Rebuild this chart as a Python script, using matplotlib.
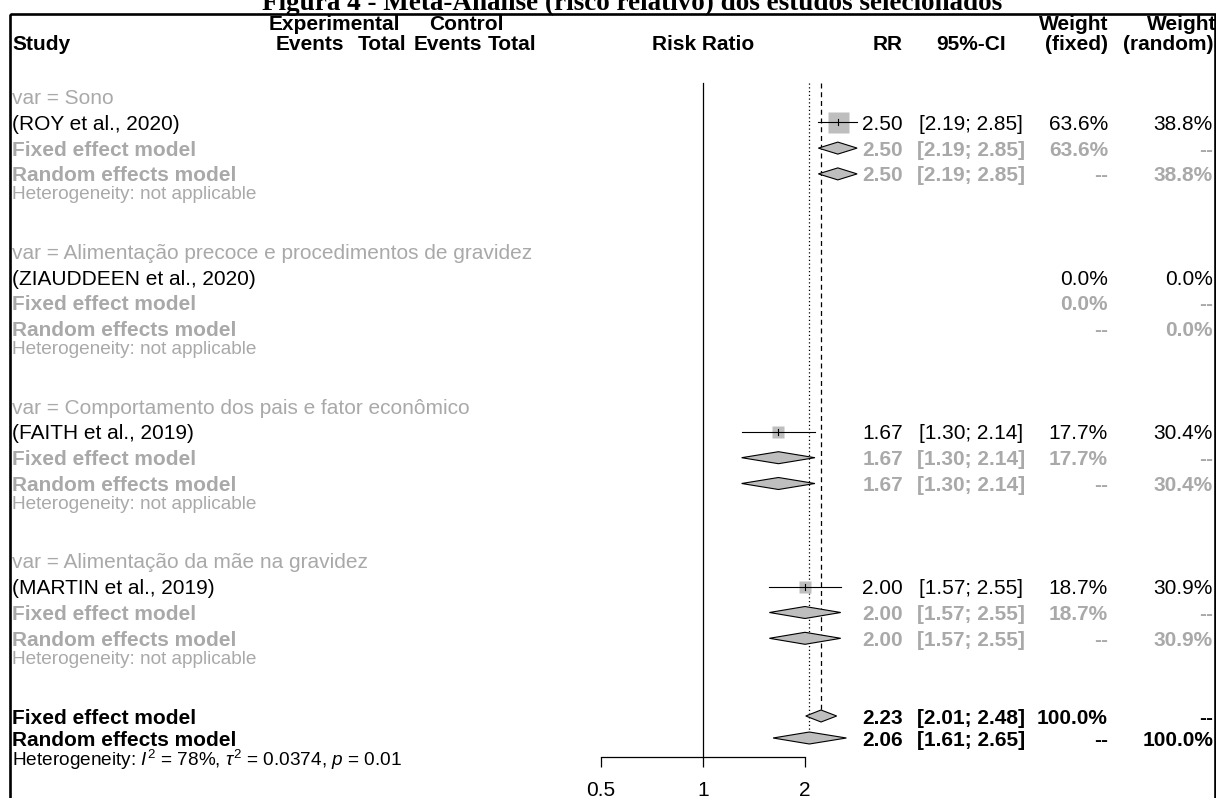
"""
Forest plot (risk ratio) of the selected studies, meta-analysis by subgroup.
Layout follows the R meta::forest output pasted in the document.
"""

import numpy as np
import matplotlib.pyplot as plt
from matplotlib.patches import Polygon, Rectangle
from matplotlib.ticker import NullLocator

plt.rcParams["font.family"] = ["Liberation Sans", "DejaVu Sans"]
plt.rcParams["mathtext.fontset"] = "custom"
plt.rcParams["mathtext.rm"] = "Liberation Sans"
plt.rcParams["mathtext.it"] = "Liberation Sans:italic"

TITLE = "Figura 4 - Meta-Análise (risco relativo) dos estudos selecionados"

GROUPS = [
    "Sono",
    "Alimentação precoce e procedimentos de gravidez",
    "Comportamento dos pais e fator econômico",
    "Alimentação da mãe na gravidez",
]
STUDIES = [
    "(ROY et al., 2020)",
    "(ZIAUDDEEN et al., 2020)",
    "(FAITH et al., 2019)",
    "(MARTIN et al., 2019)",
]
RR = [2.50, np.nan, 1.67, 2.00]
CI_LOW = [2.19, np.nan, 1.30, 1.57]
CI_HIGH = [2.85, np.nan, 2.14, 2.55]
W_FIXED = [63.6, 0.0, 17.7, 18.7]
W_RANDOM = [38.8, 0.0, 30.4, 30.9]

# pooled: fixed, random
POOLED_LABELS = ["Fixed effect model", "Random effects model"]
POOLED_RR = [2.23, 2.06]
POOLED_LOW = [2.01, 1.61]
POOLED_HIGH = [2.48, 2.65]
TOTAL_WEIGHT = 100.0
HET_I2 = 78
HET_TAU2 = 0.0374
HET_P = 0.01

AXIS_TICKS = [0.5, 1, 2]
AXIS_LABELS = ["0.5", "1", "2"]

# layout (pixels)
W, H, DPI = 1216, 798, 100
X_ONE = 703
PX_PER_DOUBLING = 102
ROW0, PITCH = 96.5, 25.8
HET_SHIFT = -7
POOLED_Y = [716, 738]
HET_ALL_Y = 757
AXIS_Y = 757
LINE_TOP = 83
DIAMOND_H = 12
SQUARE_MAX = 21
FS, FS_HET = 15, 13.7
GRAY = "#A9A9A9"
BOX_GRAY = "#BEBEBE"

X_LABEL = 12
X_RR = 903
X_CI = 971
X_WF = 1108
X_WR = 1213


def row_y(i):
    return ROW0 + PITCH * i


fig = plt.figure(figsize=(W / DPI, H / DPI), dpi=DPI)
tab = fig.add_axes([0, 0, 1, 1])
tab.set_xlim(0, W)
tab.set_ylim(H, 0)
tab.axis("off")

ax = fig.add_axes([0, 0, 1, 1])
ax.set_xscale("log")
ax.set_xlim(2 ** (-X_ONE / PX_PER_DOUBLING), 2 ** ((W - X_ONE) / PX_PER_DOUBLING))
ax.set_ylim(H, 0)
ax.patch.set_visible(False)


def put(x, y, s, ha="left", color="black", bold=False, size=FS):
    tab.text(x, y, s, ha=ha, va="center_baseline", color=color, fontsize=size,
             fontweight="bold" if bold else "normal")


def ci_text(lo, hi):
    return f"[{lo:.2f}; {hi:.2f}]"


def diamond(est, lo, hi, y):
    ax.add_patch(Polygon([(lo, y), (est, y - DIAMOND_H / 2), (hi, y), (est, y + DIAMOND_H / 2)],
                         closed=True, fc=BOX_GRAY, ec="black", lw=0.8, zorder=3))


# title, cut by the page box like in the document
tab.text(632, 9.5, TITLE, ha="center", va="baseline", fontfamily="Liberation Serif",
         fontweight="bold", fontsize=19.5)
tab.add_patch(Rectangle((10, 13.5), 1204.5, 900, fill=False, ec="black", lw=1.9))

# header
put(X_LABEL, 42, "Study", bold=True)
put(334, 22, "Experimental", ha="center", bold=True)
put(466, 22, "Control", ha="center", bold=True)
put(344, 42, "Events", ha="right", bold=True)
put(406, 42, "Total", ha="right", bold=True)
put(482, 42, "Events", ha="right", bold=True)
put(536, 42, "Total", ha="right", bold=True)
put(X_ONE, 42, "Risk Ratio", ha="center", bold=True)
put(X_RR, 42, "RR", ha="right", bold=True)
put(X_CI, 42, "95%-CI", ha="center", bold=True)
put(X_WF, 22, "Weight", ha="right", bold=True)
put(X_WF, 42, "(fixed)", ha="right", bold=True)
put(X_WR + 3, 22, "Weight", ha="right", bold=True)
put(X_WR, 42, "(random)", ha="right", bold=True)

w_max = max(W_FIXED)
for g in range(len(GROUPS)):
    base = 6 * g
    has_est = not np.isnan(RR[g])
    put(X_LABEL, row_y(base), f"var = {GROUPS[g]}", color=GRAY)
    put(X_LABEL, row_y(base + 1), STUDIES[g])
    put(X_LABEL, row_y(base + 2), "Fixed effect model", color=GRAY, bold=True)
    put(X_LABEL, row_y(base + 3), "Random effects model", color=GRAY, bold=True)
    put(X_LABEL, row_y(base + 4) + HET_SHIFT, "Heterogeneity: not applicable",
        color=GRAY, size=FS_HET)

    # study row
    y = row_y(base + 1)
    if has_est:
        put(X_RR, y, f"{RR[g]:.2f}", ha="right")
        put(X_CI, y, ci_text(CI_LOW[g], CI_HIGH[g]), ha="center")
        side = SQUARE_MAX * np.sqrt(W_FIXED[g] / w_max)
        ax.plot(RR[g], y, marker="s", ms=side * 72 / DPI, color=BOX_GRAY, mec="none", zorder=2)
        ax.plot([CI_LOW[g], CI_HIGH[g]], [y, y], color="black", lw=0.8, zorder=3)
        ax.plot([RR[g], RR[g]], [y - 3, y + 3], color="black", lw=0.8, zorder=3)
    put(X_WF, y, f"{W_FIXED[g]:.1f}%", ha="right")
    put(X_WR, y, f"{W_RANDOM[g]:.1f}%", ha="right")

    # subgroup fixed / random rows (one study each)
    for k in range(2):
        y = row_y(base + 2 + k)
        if has_est:
            put(X_RR, y, f"{RR[g]:.2f}", ha="right", color=GRAY, bold=True)
            put(X_CI, y, ci_text(CI_LOW[g], CI_HIGH[g]), ha="center", color=GRAY, bold=True)
            diamond(RR[g], CI_LOW[g], CI_HIGH[g], y)
        put(X_WF, y, f"{W_FIXED[g]:.1f}%" if k == 0 else "--", ha="right", color=GRAY, bold=True)
        put(X_WR, y, "--" if k == 0 else f"{W_RANDOM[g]:.1f}%", ha="right", color=GRAY, bold=True)

# overall
for k in range(2):
    y = POOLED_Y[k]
    put(X_LABEL, y, POOLED_LABELS[k], bold=True)
    put(X_RR, y, f"{POOLED_RR[k]:.2f}", ha="right", bold=True)
    put(X_CI, y, ci_text(POOLED_LOW[k], POOLED_HIGH[k]), ha="center", bold=True)
    put(X_WF, y, f"{TOTAL_WEIGHT:.1f}%" if k == 0 else "--", ha="right", bold=True)
    put(X_WR, y, "--" if k == 0 else f"{TOTAL_WEIGHT:.1f}%", ha="right", bold=True)
    diamond(POOLED_RR[k], POOLED_LOW[k], POOLED_HIGH[k], y)

het = (r"Heterogeneity: $\mathit{I}^2$ = " + f"{HET_I2}%, " + r"$\tau^2$"
       + f" = {HET_TAU2:.4f}, " + r"$\mathit{p}$" + f" = {HET_P:.2f}")
put(X_LABEL, HET_ALL_Y, het, size=FS_HET)

# reference lines: no effect, fixed (dashed), random (dotted)
ax.plot([1, 1], [LINE_TOP, AXIS_Y], color="black", lw=0.9, zorder=1)
ax.plot([POOLED_RR[0]] * 2, [LINE_TOP, POOLED_Y[0] - DIAMOND_H / 2], color="black",
        lw=0.9, ls=(0, (4, 3)), zorder=1)
ax.plot([POOLED_RR[1]] * 2, [LINE_TOP, POOLED_Y[1] - DIAMOND_H / 2], color="black",
        lw=0.9, ls=(0, (1, 2)), zorder=1)

# x axis
for s in ["top", "left", "right"]:
    ax.spines[s].set_visible(False)
ax.spines["bottom"].set_position(("data", AXIS_Y))
ax.spines["bottom"].set_bounds(AXIS_TICKS[0], AXIS_TICKS[-1])
ax.spines["bottom"].set_linewidth(0.9)
ax.set_xticks(AXIS_TICKS, AXIS_LABELS)
ax.xaxis.set_minor_locator(NullLocator())
ax.tick_params(axis="x", direction="out", length=7, width=0.9, labelsize=FS, pad=10)
ax.set_yticks([])

fig.savefig("out.png", dpi=DPI)
plt.close(fig)
